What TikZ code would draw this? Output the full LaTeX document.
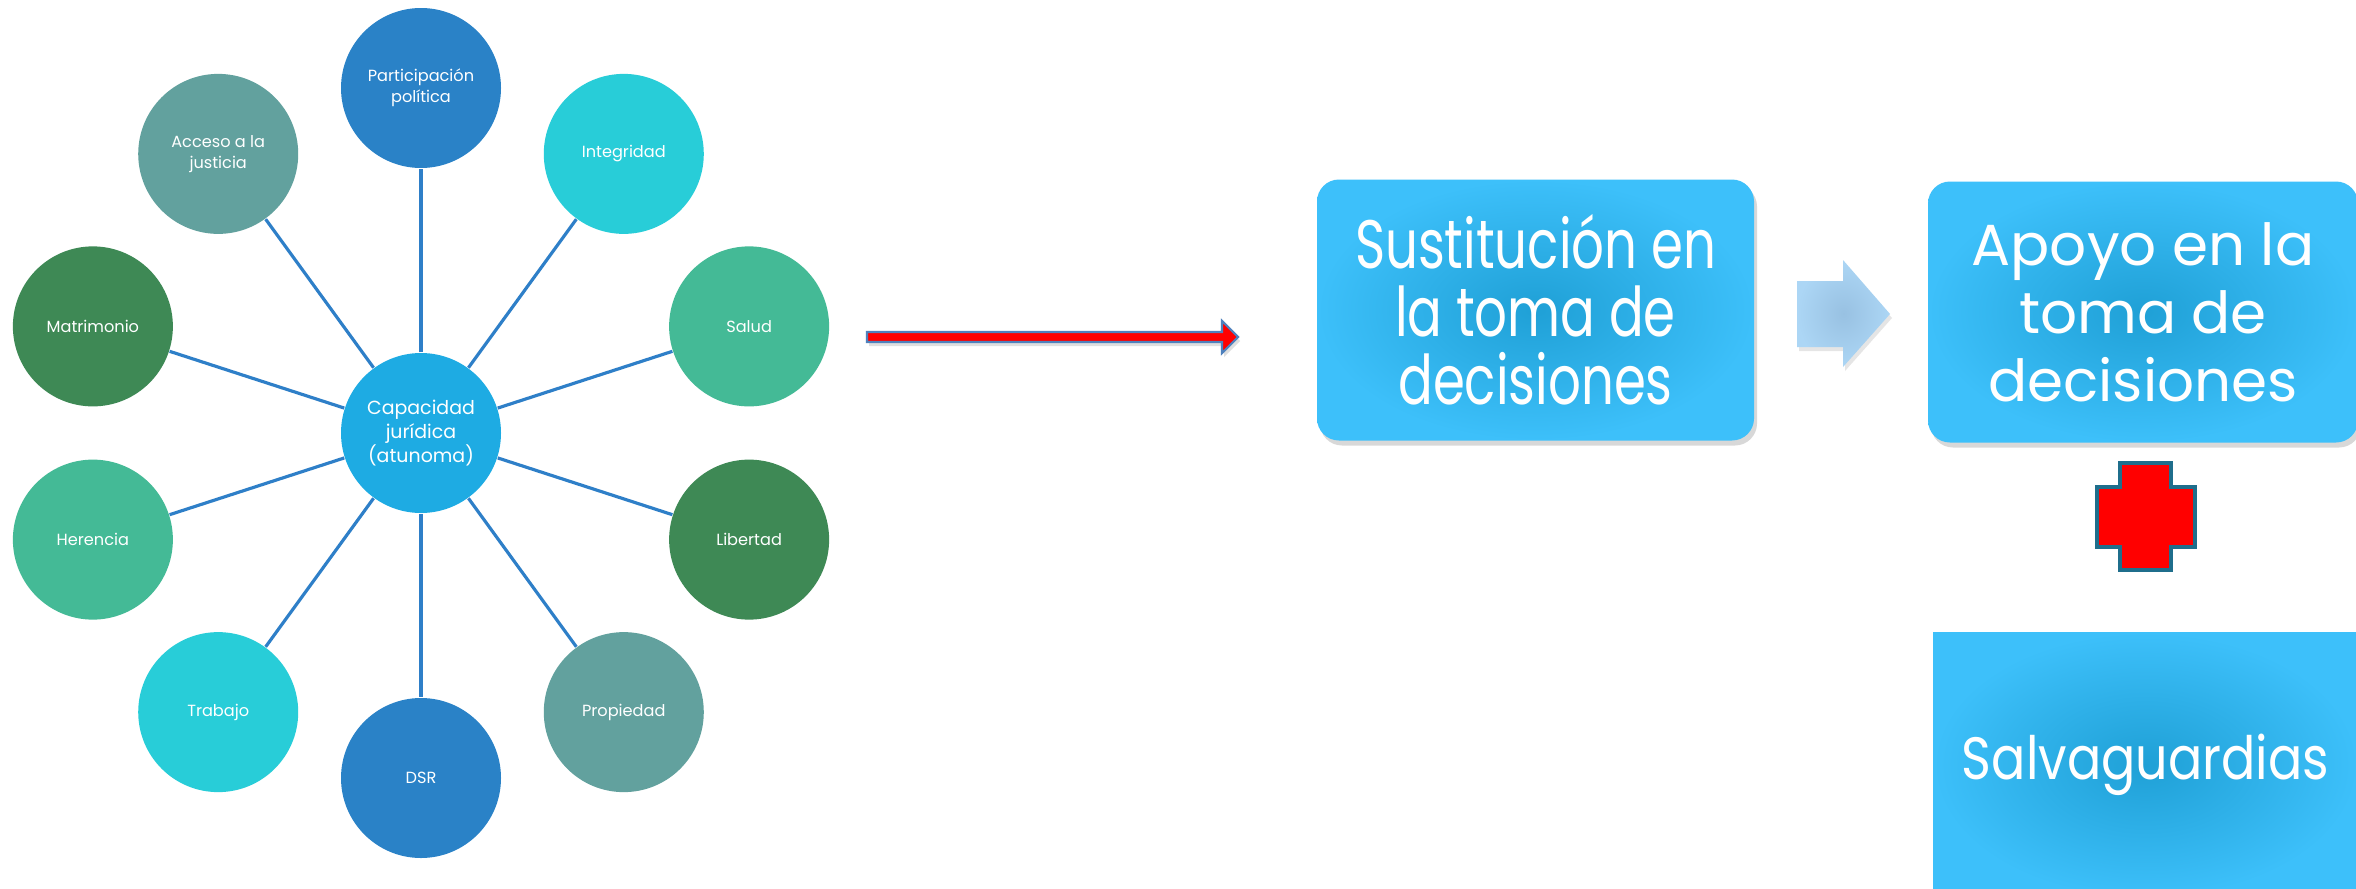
\documentclass[tikz,border=0pt]{standalone}
\usepackage{fontspec}
\setmainfont{Poppins}
\newfontfamily\condfont[FakeStretch=0.75]{Poppins}
\newfontfamily\narrowfont[FakeStretch=0.85]{Poppins}
\usetikzlibrary{shadows,calc,positioning}

\definecolor{linkblue}{RGB}{46,127,200}
\definecolor{hubblue}{RGB}{30,171,227}
\definecolor{deepblue}{RGB}{42,130,199}
\definecolor{aqua}{RGB}{40,205,216}
\definecolor{mint}{RGB}{68,186,150}
\definecolor{forest}{RGB}{62,137,85}
\definecolor{sage}{RGB}{98,161,158}
\definecolor{boxin}{RGB}{31,160,214}
\definecolor{boxout}{RGB}{61,192,250}
\definecolor{arrowedge}{RGB}{79,129,189}
\definecolor{crossedge}{RGB}{31,110,140}
\definecolor{chevin}{RGB}{152,193,226}
\definecolor{chevout}{RGB}{172,214,245}

\begin{document}
\begin{tikzpicture}[
  bubble/.style={circle, minimum size=1.6cm, inner sep=0pt, text=white, align=center,
    font=\fontsize{4.6}{5.9}\selectfont},
  hub/.style={bubble, fill=hubblue, font=\fontsize{5.4}{6.9}\selectfont},
  spoke/.style={linkblue, line width=0.9pt},
  bigbox/.style={text=white, align=center, inner sep=0pt, shading=radial,
    inner color=boxin, outer color=boxout,
    drop shadow={opacity=0.3, shadow xshift=0.03cm, shadow yshift=-0.05cm}},
]
\useasboundingbox (0,0) rectangle (23.56,8.88);
\fill[white] (0,0) rectangle (23.56,8.88);

% rights around legal capacity
\node[hub] (hub) at (4.21,4.55) {Capacidad\\jurídica\\(atunoma)};
\foreach \ang/\nm/\col/\txt in {
    90/part/deepblue/{Participación\\política},
    54/integ/aqua/Integridad,
    18/salud/mint/Salud,
    -18/lib/forest/Libertad,
    -54/prop/sage/Propiedad,
    -90/dsr/deepblue/DSR,
    -126/trab/aqua/Trabajo,
    -162/her/mint/Herencia,
    162/matr/forest/Matrimonio,
    126/acc/sage/{Acceso a la\\justicia}}{
  \node[bubble, fill=\col] (\nm) at ($(hub)+(\ang:3.45)$) {\txt};
  \draw[spoke] (hub) -- (\nm);
}

% red block arrow
\path[fill=red, draw=arrowedge, line width=0.6pt,
  drop shadow={opacity=0.25, shadow xshift=0.02cm, shadow yshift=-0.04cm}]
  (8.67,5.56) -- (12.22,5.56) -- (12.22,5.67) -- (12.38,5.51) -- (12.22,5.35)
  -- (12.22,5.46) -- (8.67,5.46) -- cycle;

\node[bigbox, rounded corners=0.22cm, minimum width=4.37cm, minimum height=2.61cm,
  font=\condfont\fontsize{19.5}{19.3}\selectfont] (sust) at (15.355,5.78)
  {Sustitución en\\la toma de\\decisiones};

% light blue arrow between the boxes
\path[shading=radial, inner color=chevin, outer color=chevout,
  drop shadow={opacity=0.2, shadow xshift=0.02cm, shadow yshift=-0.04cm}]
  (17.97,6.07) -- (18.43,6.07) -- (18.43,6.28) -- (18.90,5.74) -- (18.43,5.21)
  -- (18.43,5.41) -- (17.97,5.41) -- cycle;

\node[bigbox, rounded corners=0.22cm, minimum width=4.30cm, minimum height=2.61cm,
  font=\fontsize{16.5}{19.3}\selectfont] (apoyo) at (21.43,5.76)
  {Apoyo en la\\toma de\\decisiones};

% plus sign
\path[fill=red, draw=crossedge, line width=1pt]
  (21.20,4.25) -- (21.71,4.25) -- (21.71,4.01) -- (21.95,4.01) -- (21.95,3.41)
  -- (21.71,3.41) -- (21.71,3.18) -- (21.20,3.18) -- (21.20,3.41) -- (20.97,3.41)
  -- (20.97,4.01) -- (21.20,4.01) -- cycle;

\node[bigbox, minimum width=4.25cm, minimum height=2.66cm,
  font=\narrowfont\fontsize{17}{19.3}\selectfont] (salv) at (21.455,1.23) {Salvaguardias};

\end{tikzpicture}
\end{document}
